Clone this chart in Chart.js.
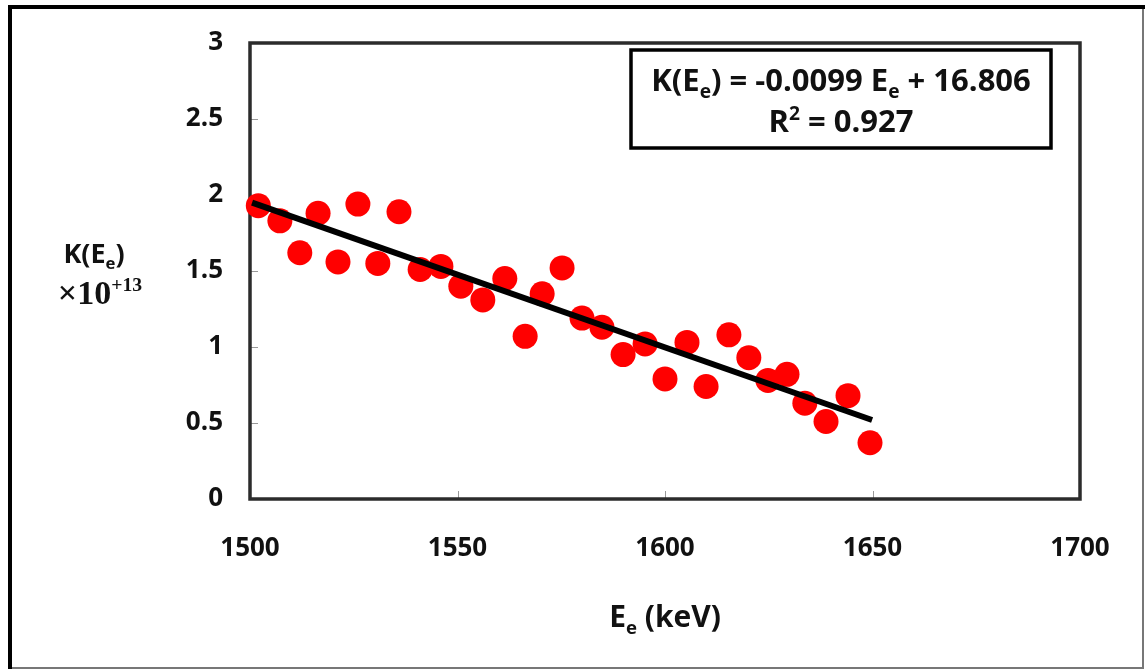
<!DOCTYPE html>
<html><head><meta charset="utf-8">
<script src="https://cdn.jsdelivr.net/npm/chart.js@4.4.0/dist/chart.umd.min.js"></script>
<style>html,body{margin:0;padding:0;background:#fff;}#c{display:block}</style>
</head><body>
<canvas id="c" width="1145" height="669"></canvas>
<script>
// ---- data ----
const energies = [1502.0, 1507.2, 1512.0, 1516.4, 1521.2, 1526.0, 1530.8, 1535.9, 1541.0, 1546.0,
  1550.8, 1556.1, 1561.4, 1566.3, 1570.4, 1575.2, 1580.0, 1584.8, 1589.9, 1595.2,
  1600.0, 1605.3, 1609.9, 1615.4, 1620.2, 1624.8, 1629.4, 1633.7, 1638.8, 1644.1, 1649.4];
const kValues = [1.93, 1.83, 1.62, 1.88, 1.56, 1.94, 1.55, 1.89, 1.51, 1.53,
  1.40, 1.31, 1.45, 1.07, 1.35, 1.52, 1.19, 1.13, 0.95, 1.02,
  0.79, 1.03, 0.74, 1.08, 0.93, 0.78, 0.82, 0.63, 0.51, 0.68, 0.37];
const fitX = [1500.5, 1649.9];
const fitY = [1.95, 0.52];
const xTicks = [1500, 1550, 1600, 1650, 1700];
const yTicks = [0, 0.5, 1, 1.5, 2, 2.5, 3];
const yTickLabels = ['0', '0.5', '1', '1.5', '2', '2.5', '3'];
const eqLine1 = [['K(E', 0], ['e', 1], [') = -0.0099 E', 0], ['e', 1], [' + 16.806', 0]];
const eqLine2 = [['R', 0], ['2', 2], [' = 0.927', 0]];
const yTitle1 = [['K(E', 0], ['e', 1], [')', 0]];
const yTitle2 = [['\u00d710', 0], ['+13', 2]];
const xTitle = [['E', 0], ['e', 1], [' (keV)', 0]];

const SANS = '"Open Sans", sans-serif';
const SERIF = '"Liberation Serif", "DejaVu Serif", serif';

function richText(ctx, parts, cx, baseY, size, family, subScale) {
  const fonts = parts.map(p => {
    const s = p[1] === 0 ? size : size * subScale;
    return 'bold ' + s + 'px ' + family;
  });
  let total = 0;
  const widths = parts.map((p, i) => { ctx.font = fonts[i]; const w = ctx.measureText(p[0]).width; total += w; return w; });
  let x = cx - total / 2;
  ctx.textAlign = 'left';
  ctx.textBaseline = 'alphabetic';
  parts.forEach((p, i) => {
    ctx.font = fonts[i];
    let dy = 0;
    if (p[1] === 1) dy = size * 0.22;
    if (p[1] === 2) dy = -size * 0.38;
    ctx.fillText(p[0], x, baseY + dy);
    x += widths[i];
  });
}

const decor = {
  id: 'decor',
  beforeDraw(chart) {
    const ctx = chart.ctx;
    ctx.save();
    ctx.fillStyle = '#fff';
    ctx.fillRect(0, 0, chart.width, chart.height);
    // outer frame
    ctx.strokeStyle = '#777';
    ctx.lineWidth = 2;
    ctx.beginPath();
    ctx.moveTo(1143, 6); ctx.lineTo(1143, 668); ctx.lineTo(9, 668);
    ctx.stroke();
    ctx.strokeStyle = '#000';
    ctx.lineWidth = 4;
    ctx.beginPath();
    ctx.moveTo(10, 669); ctx.lineTo(10, 7); ctx.lineTo(1145, 7);
    ctx.stroke();
    ctx.restore();
  },
  beforeDatasetsDraw(chart) {
    const ctx = chart.ctx;
    const a = chart.chartArea;
    const xs = chart.scales.x, ys = chart.scales.y;
    ctx.save();
    // inner ticks
    ctx.strokeStyle = '#999';
    ctx.lineWidth = 1;
    ctx.beginPath();
    xTicks.forEach(v => { const px = Math.round(xs.getPixelForValue(v)) + 0.5; ctx.moveTo(px, a.bottom); ctx.lineTo(px, a.bottom - 8); });
    yTicks.forEach(v => { const py = Math.round(ys.getPixelForValue(v)) + 0.5; ctx.moveTo(a.left, py); ctx.lineTo(a.left + 8, py); });
    ctx.stroke();
    // plot frame
    ctx.strokeStyle = '#2b2b2b';
    ctx.lineWidth = 3.5;
    ctx.strokeRect(a.left, a.top, a.right - a.left, a.bottom - a.top);
    ctx.restore();
  },
  afterDraw(chart) {
    const ctx = chart.ctx;
    ctx.save();
    // equation box
    ctx.fillStyle = '#fff';
    ctx.fillRect(631, 50, 420, 98);
    ctx.strokeStyle = '#000';
    ctx.lineWidth = 3.5;
    ctx.strokeRect(631, 50, 420, 98);
    ctx.fillStyle = '#111';
    richText(ctx, eqLine1, 841, 91, 31, SANS, 0.62);
    richText(ctx, eqLine2, 841, 132, 31, SANS, 0.62);
    // axis titles
    richText(ctx, yTitle1, 94, 263, 27, SANS, 0.62);
    richText(ctx, yTitle2, 100, 304, 34, SERIF, 0.58);
    richText(ctx, xTitle, 665, 627, 30, SANS, 0.62);
    ctx.restore();
  }
};

new Chart(document.getElementById('c'), {
  type: 'scatter',
  data: {
    datasets: [
      {
        type: 'line',
        data: fitX.map((x, i) => ({ x: x, y: fitY[i] })),
        borderColor: '#000',
        borderWidth: 6,
        pointRadius: 0,
        fill: false,
        clip: false
      },
      {
        data: energies.map((x, i) => ({ x: x, y: kValues[i] })),
        backgroundColor: '#ff0000',
        borderWidth: 0,
        pointRadius: 12.5,
        pointHoverRadius: 12.5,
        clip: false
      }
    ]
  },
  options: {
    responsive: false,
    animation: false,
    events: [],
    layout: { padding: { left: 0, top: 43, right: 65, bottom: 0 } },
    plugins: { legend: { display: false }, tooltip: { enabled: false } },
    scales: {
      x: {
        type: 'linear',
        min: 1500, max: 1700,
        afterBuildTicks: s => { s.ticks = xTicks.map(v => ({ value: v })); },
        afterFit: s => { s.height = 669 - 499; },
        grid: { display: false, drawTicks: false },
        border: { display: false },
        ticks: { padding: 34, color: '#111', font: { family: 'Open Sans', weight: 'bold', size: 26 }, callback: v => String(v) }
      },
      y: {
        type: 'linear',
        min: 0, max: 3,
        afterBuildTicks: s => { s.ticks = yTicks.map(v => ({ value: v })); },
        afterFit: s => { s.width = 250; },
        grid: { display: false, drawTicks: false },
        border: { display: false },
        ticks: { padding: 27, color: '#111', font: { family: 'Open Sans', weight: 'bold', size: 26 },
          callback: (v, i) => yTickLabels[yTicks.indexOf(v)] }
      }
    }
  },
  plugins: [decor]
});
</script>
</body></html>
